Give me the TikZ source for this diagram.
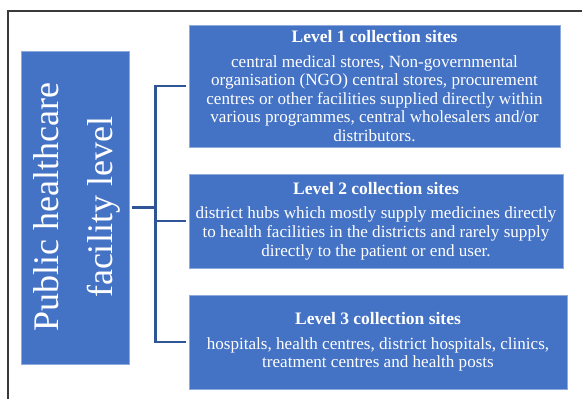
\documentclass[tikz,border=0pt]{standalone}
\usepackage{fontspec}
\setmainfont{Liberation Serif}
\definecolor{boxblue}{HTML}{4472C4}
\definecolor{boxedge}{HTML}{8FAADC}
\definecolor{linkblue}{HTML}{2F5597}
\definecolor{framegray}{HTML}{3A3A3A}
\begin{document}
\begin{tikzpicture}[x=1pt,y=-1pt,
  sitebox/.style={fill=boxblue, draw=boxedge, line width=0.6pt, text=white,
    align=center, inner sep=0pt, font=\fontsize{17.1}{18.6}\selectfont},
  levelbox/.style={fill=boxblue, draw=boxedge, line width=0.6pt, text=white,
    align=center, inner sep=0pt, font=\fontsize{36}{54}\selectfont},
  link/.style={draw=linkblue, line width=2.3pt},
  frame/.style={draw=framegray, line width=1.3pt}]
\useasboundingbox (0,0) rectangle (582,399);
\fill[white] (0,0) rectangle (582,399);
% page frame
\draw[frame] (8,399) -- (8,11) -- (582,11);

% facility level
\node[levelbox, minimum width=94pt, minimum height=313pt] (lvl) at (75,207.5)
  {\rotatebox{90}{\begin{tabular}{@{}c@{}}Public healthcare\\facility level\end{tabular}}};

% collection site levels
\newcommand{\sitetitle}[1]{{\bfseries\fontsize{17.5}{18.6}\selectfont #1}\\[6pt]}
\node[sitebox, minimum width=371pt, minimum height=122pt] (l1) at (374.5,86)
  {\sitetitle{Level 1 collection sites}
   central medical stores, Non-governmental\\
   organisation (NGO) central stores, procurement\\
   centres or other facilities supplied directly within\\
   various programmes, central wholesalers and/or\\
   distributors.};
\node[sitebox, minimum width=374pt, minimum height=94pt] (l2) at (376,221)
  {\sitetitle{Level 2 collection sites}
   district hubs which mostly supply medicines directly\\
   to health facilities in the districts and rarely supply\\
   directly to the patient or end user.};
\node[sitebox, minimum width=378pt, minimum height=94pt] (l3) at (378,342)
  {\sitetitle{Level 3 collection sites}
   hospitals, health centres, district hospitals, clinics,\\
   treatment centres and health posts};

% connectors
\coordinate (trunk) at (155.5,0);
\draw[link, shorten <=3pt] (lvl.east) -- (lvl.east -| trunk);
\draw[link, shorten <=3pt, shorten >=3pt] (l1.west) -- (l1.west -| trunk)
  -- (l3.west -| trunk) -- (l3.west);
\draw[link, shorten <=3pt] (l2.west) -- (l2.west -| trunk);
\end{tikzpicture}
\end{document}
